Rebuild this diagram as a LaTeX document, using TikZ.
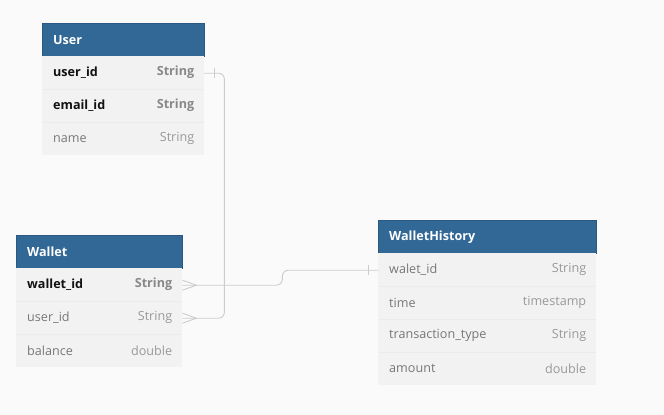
\documentclass[tikz,border=0pt]{standalone}
\usepackage{fontspec}
\setmainfont{Open Sans}
\definecolor{bg}{HTML}{FAFAFA}
\definecolor{hdr}{HTML}{316896}
\definecolor{rowf}{HTML}{F2F2F2}
\definecolor{sep}{HTML}{EBEBEB}
\definecolor{conn}{HTML}{CCCCCC}
\definecolor{nm}{HTML}{777777}
\definecolor{ty}{HTML}{999999}
\definecolor{bnm}{HTML}{111111}
\definecolor{bty}{HTML}{888888}
\begin{document}
\begin{tikzpicture}[x=1pt,y=-1pt,
  hdrbox/.style={draw=hdr!85!black,line width=0.6pt,fill=hdr,minimum height=33pt,anchor=north west,inner sep=0pt},
  rowbox/.style={fill=rowf,minimum height=33pt,anchor=north west,inner sep=0pt},
  htext/.style={text=white,font=\fontsize{12.6}{14}\selectfont\bfseries,anchor=west,inner sep=0pt},
  ntext/.style={text=nm,font=\fontsize{12.6}{14}\selectfont,anchor=west,inner sep=0pt},
  ttext/.style={text=ty,font=\fontsize{12.6}{14}\selectfont,anchor=east,inner sep=0pt},
  bntext/.style={text=bnm,font=\fontsize{12.6}{14}\selectfont\bfseries,anchor=west,inner sep=0pt},
  bttext/.style={text=bty,font=\fontsize{12.6}{14}\selectfont\bfseries,anchor=east,inner sep=0pt},
  conline/.style={draw=conn,line width=0.9pt,rounded corners=6pt}
]
\fill[bg] (0,0) rectangle (664,415);
\useasboundingbox (0,0) rectangle (664,415);

% ---------- User ----------
\node[hdrbox,minimum width=162pt] (uh) at (42,23) {};
\node[htext] at ([xshift=11pt]uh.west) {User};
\node[rowbox,minimum width=162pt] (u1) at (42,56) {};
\node[rowbox,minimum width=162pt] (u2) at (42,89) {};
\node[rowbox,minimum width=162pt] (u3) at (42,122) {};
\draw[sep] (u1.south west) -- (u1.south east);
\draw[sep] (u2.south west) -- (u2.south east);
\node[bntext] at ([xshift=11pt]u1.west) {user\_id};
\node[bttext] at ([xshift=-10pt]u1.east) {String};
\node[bntext] at ([xshift=11pt]u2.west) {email\_id};
\node[bttext] at ([xshift=-10pt]u2.east) {String};
\node[ntext] at ([xshift=11pt]u3.west) {name};
\node[ttext] at ([xshift=-10pt]u3.east) {String};

% ---------- Wallet ----------
\node[hdrbox,minimum width=166pt] (wh) at (16,235) {};
\node[htext] at ([xshift=11pt]wh.west) {Wallet};
\node[rowbox,minimum width=166pt] (w1) at (16,268) {};
\node[rowbox,minimum width=166pt] (w2) at (16,301) {};
\node[rowbox,minimum width=166pt] (w3) at (16,334) {};
\draw[sep] (w1.south west) -- (w1.south east);
\draw[sep] (w2.south west) -- (w2.south east);
\node[bntext] at ([xshift=11pt]w1.west) {wallet\_id};
\node[bttext] at ([xshift=-10pt]w1.east) {String};
\node[ntext] at ([xshift=11pt]w2.west) {user\_id};
\node[ttext] at ([xshift=-10pt]w2.east) {String};
\node[ntext] at ([xshift=11pt]w3.west) {balance};
\node[ttext] at ([xshift=-10pt]w3.east) {double};

% ---------- WalletHistory ----------
\node[hdrbox,minimum width=218pt] (hh) at (378,220) {};
\node[htext] at ([xshift=11pt]hh.west) {WalletHistory};
\node[rowbox,minimum width=218pt] (h1) at (378,253) {};
\node[rowbox,minimum width=218pt] (h2) at (378,286) {};
\node[rowbox,minimum width=218pt] (h3) at (378,319) {};
\node[rowbox,minimum width=218pt] (h4) at (378,352) {};
\draw[sep] (h1.south west) -- (h1.south east);
\draw[sep] (h2.south west) -- (h2.south east);
\draw[sep] (h3.south west) -- (h3.south east);
\node[ntext] at ([xshift=11pt]h1.west) {walet\_id};
\node[ttext] at ([xshift=-10pt]h1.east) {String};
\node[ntext] at ([xshift=11pt]h2.west) {time};
\node[ttext] at ([xshift=-10pt]h2.east) {timestamp};
\node[ntext] at ([xshift=11pt]h3.west) {transaction\_type};
\node[ttext] at ([xshift=-10pt]h3.east) {String};
\node[ntext] at ([xshift=11pt]h4.west) {amount};
\node[ttext] at ([xshift=-10pt]h4.east) {double};

% ---------- connectors ----------
\coordinate (ua) at ([yshift=-0.5pt]u1.east);
\coordinate (wb) at ([yshift=-0.5pt]w2.east);
\coordinate (wa) at ([yshift=-0.5pt]w1.east);
\coordinate (ha) at ([yshift=-0.5pt]h1.west);
\draw[conline] (ua) -- ++(20,0) |- (wb);
\draw[conline] (wa) -- ++(100,0) |- (ha);
% ticks (one)
\draw[conn,line width=0.9pt] ([xshift=10pt,yshift=-5pt]ua) -- ([xshift=10pt,yshift=5pt]ua);
\draw[conn,line width=0.9pt] ([xshift=-10pt,yshift=-5pt]ha) -- ([xshift=-10pt,yshift=5pt]ha);
% crow's feet (many)
\draw[conn,line width=0.9pt] ([yshift=-5pt]wa) -- ([xshift=14pt]wa) -- ([yshift=5pt]wa);
\draw[conn,line width=0.9pt] ([yshift=-5pt]wb) -- ([xshift=14pt]wb) -- ([yshift=5pt]wb);
\end{tikzpicture}
\end{document}
